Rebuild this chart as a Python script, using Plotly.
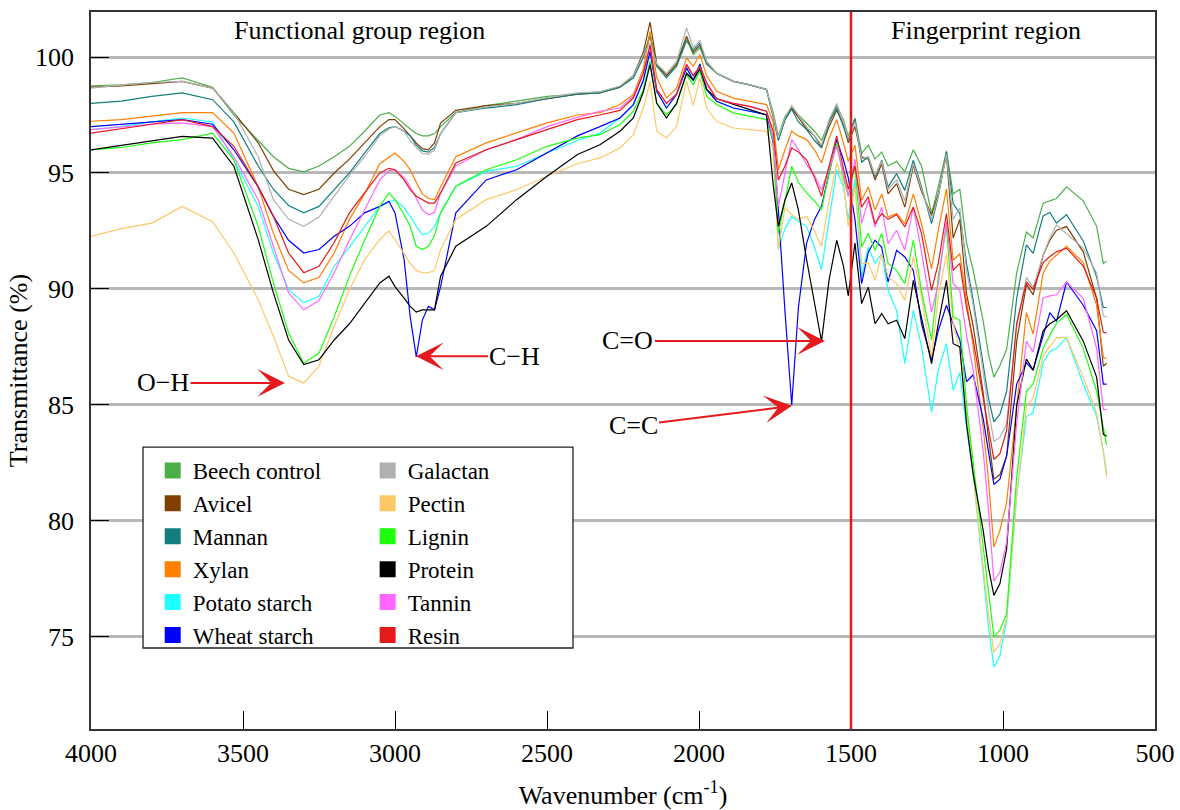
import plotly.graph_objects as go

# ---------------- data ----------------
wavenumber = [
    4000, 3900, 3800, 3700, 3600, 3530, 3450, 3400, 3350, 3300,
    3250, 3200, 3150, 3100, 3050, 3020, 3000, 2970, 2950, 2930,
    2910, 2890, 2870, 2850, 2800, 2700, 2600, 2500, 2400, 2326,
    2260, 2216, 2183, 2161, 2139, 2107, 2074, 2041, 2019, 1997,
    1975, 1942, 1887, 1833, 1778, 1756, 1739, 1717, 1695, 1673,
    1646, 1620, 1597, 1572, 1547, 1525, 1509, 1487, 1465, 1443,
    1421, 1399, 1378, 1350, 1323, 1295, 1268, 1235, 1213, 1186,
    1164, 1142, 1120, 1098, 1065, 1048, 1030, 1010, 988, 955,
    923, 901, 868, 846, 824, 791, 736, 692, 670, 659,
]

beech_control = [
    98.76, 98.8, 98.9, 99.1, 98.7, 97.5, 96.4, 95.7, 95.2, 95.05,
    95.3, 95.7, 96.15, 96.8, 97.5, 97.6, 97.44, 97.1, 96.9, 96.7,
    96.6, 96.6, 96.7, 97.0, 97.6, 97.9, 98.1, 98.3, 98.4, 98.5,
    98.7, 99.1, 100.0, 101.0, 99.6, 99.2, 99.6, 100.8, 100.1, 100.4,
    99.7, 99.3, 98.95, 98.8, 98.6, 97.6, 96.6, 97.44, 97.8, 97.5,
    97.15, 96.8, 96.4, 97.2, 97.9, 97.3, 96.6, 97.35, 95.85, 96.2,
    95.6, 95.9, 95.3, 95.5, 95.05, 96.0, 95.3, 93.25, 94.4, 95.95,
    94.1, 94.3, 92.0, 90.8, 88.6, 87.2, 86.2, 86.7, 87.4, 90.7,
    92.45, 92.2, 93.7, 93.8, 93.9, 94.4, 93.8, 92.7, 91.1, 91.2,
]
avicel = [
    98.7, 98.75, 98.85, 98.95, 98.66, 97.6, 96.3, 95.1, 94.3, 94.07,
    94.3, 95.0, 95.6, 96.3, 97.0, 97.3, 97.3, 96.9, 96.6, 96.3,
    96.05, 96.0, 96.3, 97.15, 97.7, 97.9, 98.0, 98.2, 98.4, 98.45,
    98.7, 99.2, 100.2, 101.5, 99.7, 99.2, 99.7, 100.9, 100.2, 100.5,
    99.8, 99.3, 98.95, 98.8, 98.6, 97.5, 96.44, 97.3, 97.8, 97.4,
    96.9, 96.6, 96.1, 97.0, 97.7, 97.1, 96.3, 97.0, 95.7, 95.6,
    94.7, 95.4, 94.1, 94.54, 93.53, 95.33, 94.2, 93.18, 94.1, 95.76,
    92.2, 93.0, 89.8, 88.4, 85.5, 83.6, 81.8, 82.0, 82.8, 87.75,
    90.2, 89.75, 91.45, 92.1, 92.53, 92.69, 91.6, 89.6, 86.67, 86.8,
]
mannan = [
    98.0, 98.1, 98.3, 98.45, 98.16, 97.2, 95.3, 94.3, 93.6, 93.28,
    93.56, 94.28, 95.0, 95.86, 96.7, 96.95, 97.0, 96.8, 96.6, 96.2,
    95.95, 95.9, 96.1, 96.7, 97.6, 97.8, 97.95, 98.2, 98.4, 98.45,
    98.7, 99.1, 100.0, 100.9, 99.6, 99.1, 99.6, 100.7, 100.3, 100.6,
    99.7, 99.3, 98.95, 98.8, 98.6, 97.4, 96.4, 97.3, 97.75, 97.2,
    96.87, 96.4, 96.08, 97.2, 97.8, 97.0, 96.44, 97.34, 95.47, 95.7,
    94.83, 95.55, 94.4, 94.97, 94.25, 95.55, 94.4, 92.82, 93.97, 95.9,
    93.68, 93.25, 91.1, 89.5, 86.7, 85.3, 84.27, 84.6, 85.59, 89.6,
    91.9, 91.53, 93.15, 93.3, 92.84, 93.2, 92.07, 90.52, 89.2, 89.2,
]
xylan = [
    97.23, 97.3, 97.45, 97.6, 97.6, 96.72, 94.4, 92.4, 90.8, 90.26,
    90.5, 91.55, 93.0, 94.1, 95.4, 95.7, 95.86, 95.5, 95.14, 94.6,
    94.1, 93.9, 93.85, 94.4, 95.7, 96.3, 96.72, 97.16, 97.5, 97.6,
    97.95, 98.38, 99.5, 101.1, 99.1, 98.23, 98.66, 99.96, 99.6, 100.1,
    99.2, 98.52, 98.23, 98.09, 97.95, 97.2, 95.14, 96.0, 96.8, 96.6,
    96.44, 96.0, 95.43, 96.5, 97.3, 96.3, 95.5, 96.2, 93.82, 94.4,
    93.4, 94.1, 93.1, 93.25, 92.82, 94.1, 92.8, 90.88, 92.53, 94.32,
    91.24, 91.52, 89.4, 87.5, 84.0, 81.8, 78.87, 79.6, 80.8, 84.97,
    88.98, 88.06, 90.68, 91.2, 91.45, 91.84, 91.14, 89.29, 87.05, 87.0,
]
potato_starch = [
    96.87, 97.0, 97.2, 97.37, 97.2, 95.57, 93.56, 91.55, 89.97, 89.4,
    89.68, 90.98, 91.8, 92.7, 93.56, 93.75, 93.85, 93.5, 93.13, 92.7,
    92.34, 92.4, 92.7, 93.28, 94.43, 95.07, 95.29, 95.86, 96.4, 96.72,
    97.37, 97.95, 99.0, 100.24, 98.52, 97.8, 98.38, 99.53, 99.0, 99.7,
    98.6, 98.09, 97.8, 97.66, 97.51, 96.5, 91.7, 92.6, 93.13, 92.9,
    92.7, 91.8, 90.83, 93.0, 95.14, 94.4, 93.0, 94.7, 90.52, 91.8,
    91.1, 91.52, 89.94, 89.08, 86.78, 89.08, 87.5, 84.7, 86.5, 87.64,
    85.63, 86.4, 84.0, 82.0, 77.87, 75.5, 73.7, 74.2, 75.7, 81.1,
    84.5, 84.66, 86.82, 87.3, 87.44, 87.9, 85.9, 84.5, 83.0, 82.04,
]
wheat_starch = [
    97.0, 97.1, 97.2, 97.3, 97.1, 96.0, 94.4, 93.13, 92.1, 91.55,
    91.7, 92.27, 92.7, 93.28, 93.56, 93.78, 93.28, 91.26, 88.8, 87.07,
    88.66, 89.25, 89.1, 90.1, 93.28, 94.7, 95.14, 95.86, 96.6, 97.0,
    97.37, 97.95, 99.0, 100.24, 98.52, 97.8, 98.38, 99.53, 99.0, 99.7,
    98.6, 98.09, 97.8, 97.66, 97.51, 96.3, 93.4, 89.0, 85.0, 89.2,
    91.98, 93.0, 93.56, 95.0, 96.44, 95.57, 94.8, 93.0, 90.23, 91.6,
    92.1, 91.8, 90.3, 91.67, 91.38, 90.8, 88.5, 86.92, 88.2, 89.3,
    88.5, 87.8, 86.0, 86.3, 84.4, 83.0, 81.57, 81.8, 82.8, 85.9,
    86.82, 86.5, 88.06, 88.98, 88.6, 90.3, 89.3, 88.2, 85.9, 85.9,
]
galactan = [
    98.66, 98.8, 98.9, 98.95, 98.66, 97.6, 95.7, 93.85, 93.0, 92.7,
    93.1, 94.0, 94.9, 95.7, 96.6, 96.9, 97.0, 96.8, 96.4, 96.1,
    95.85, 95.8, 96.0, 96.7, 97.6, 97.85, 98.0, 98.25, 98.45, 98.5,
    98.75, 99.2, 100.1, 100.6, 99.7, 99.3, 99.8, 101.25, 100.4, 100.7,
    99.8, 99.3, 98.95, 98.8, 98.6, 97.5, 96.5, 97.4, 97.9, 97.5,
    97.0, 96.6, 96.2, 97.3, 98.0, 97.2, 96.5, 97.2, 95.6, 95.7,
    94.9, 95.5, 94.3, 94.7, 93.8, 95.4, 94.3, 93.0, 94.0, 95.8,
    93.0, 93.5, 90.8, 89.3, 86.4, 84.8, 83.43, 83.6, 84.2, 88.4,
    90.5, 90.06, 91.45, 92.2, 92.76, 92.38, 91.76, 90.68, 88.83, 88.8,
]
pectin = [
    92.27, 92.6, 92.84, 93.56, 92.9, 91.55, 89.54, 87.96, 86.24, 85.95,
    86.67, 88.4, 89.97, 91.26, 92.13, 92.5, 92.13, 91.5, 91.1, 90.8,
    90.7, 90.7, 90.8, 91.7, 93.0, 93.85, 94.28, 94.86, 95.4, 95.65,
    96.08, 96.65, 97.8, 98.95, 96.8, 96.51, 97.0, 98.95, 97.9, 99.1,
    97.8, 97.23, 96.94, 96.87, 96.8, 96.0, 91.7, 93.5, 93.2, 93.0,
    93.13, 92.5, 91.84, 93.8, 95.43, 94.6, 92.7, 94.4, 91.1, 91.1,
    90.37, 91.52, 90.52, 90.23, 89.5, 91.38, 89.66, 87.07, 89.66, 91.52,
    88.5, 87.36, 84.8, 82.0, 78.0, 76.0, 74.32, 74.7, 75.86, 81.1,
    84.97, 85.28, 87.13, 87.5, 87.9, 87.9, 86.2, 84.66, 83.0, 81.88,
]
lignin = [
    96.0, 96.1, 96.3, 96.44, 96.72, 95.57, 92.7, 90.26, 88.1, 86.8,
    87.24, 88.8, 90.55, 92.1, 93.56, 94.14, 93.85, 93.2, 92.7, 91.84,
    91.7, 91.84, 92.3, 93.28, 94.43, 95.14, 95.57, 96.15, 96.5, 96.65,
    97.08, 97.66, 98.6, 99.81, 98.0, 97.51, 97.95, 99.24, 98.8, 99.4,
    98.3, 97.95, 97.59, 97.44, 97.3, 96.4, 92.4, 93.8, 95.29, 94.6,
    94.14, 93.8, 93.42, 95.0, 96.3, 94.8, 94.0, 95.3, 91.8, 92.4,
    91.67, 92.4, 91.1, 90.8, 90.23, 92.1, 89.9, 87.8, 90.52, 92.7,
    88.8, 88.65, 85.0, 82.5, 78.8, 76.8, 75.0, 75.3, 76.0, 81.88,
    85.59, 85.9, 87.44, 88.0, 88.52, 88.9, 87.44, 85.59, 84.0, 83.27,
]
protein = [
    96.0, 96.2, 96.4, 96.58, 96.5, 95.29, 92.13, 89.83, 87.8, 86.74,
    86.95, 87.8, 88.5, 89.4, 90.26, 90.55, 90.1, 89.6, 89.25, 89.0,
    89.1, 89.1, 89.1, 90.55, 91.84, 92.7, 93.85, 94.86, 95.8, 96.22,
    96.8, 97.37, 98.5, 99.67, 98.0, 97.37, 98.0, 99.3, 99.0, 99.5,
    98.6, 98.2, 97.95, 97.73, 97.5, 94.5, 92.7, 93.85, 94.57, 93.4,
    91.26, 89.4, 87.74, 90.4, 92.1, 91.0, 89.7, 91.98, 89.37, 90.08,
    88.5, 88.94, 88.5, 88.65, 87.86, 90.37, 88.8, 86.78, 88.5, 90.37,
    87.64, 87.5, 84.2, 82.0, 79.57, 78.0, 76.79, 77.3, 78.8, 84.97,
    86.98, 86.5, 88.2, 88.5, 88.67, 89.06, 87.75, 86.2, 83.73, 83.65,
]
tannin = [
    96.87, 97.0, 97.1, 97.16, 97.0, 95.7, 93.85, 91.84, 89.83, 89.1,
    89.5, 90.7, 92.1, 93.4, 94.7, 95.1, 95.14, 94.8, 94.42, 93.9,
    93.4, 93.2, 93.3, 94.14, 95.3, 96.0, 96.44, 97.0, 97.4, 97.66,
    97.8, 98.3, 99.3, 100.5, 98.6, 98.0, 98.4, 99.7, 99.2, 99.6,
    98.8, 98.2, 98.0, 97.87, 97.66, 96.5, 93.56, 95.0, 96.44, 96.0,
    95.36, 94.9, 94.28, 95.2, 96.15, 95.0, 94.0, 95.6, 92.82, 93.82,
    92.67, 93.53, 91.95, 92.53, 91.67, 93.53, 91.6, 89.0, 90.23, 92.9,
    90.23, 89.94, 88.0, 86.5, 83.0, 80.5, 77.41, 77.8, 79.1, 84.2,
    87.75, 87.28, 89.6, 89.7, 89.75, 90.3, 89.6, 87.44, 84.8, 84.8,
]
resin = [
    96.72, 96.9, 97.1, 97.3, 97.0, 96.15, 94.4, 93.13, 91.55, 90.7,
    90.98, 92.0, 93.28, 94.14, 95.0, 95.2, 95.14, 94.7, 94.28, 94.0,
    93.85, 93.7, 93.7, 94.14, 95.43, 96.0, 96.44, 96.87, 97.3, 97.5,
    97.7, 98.23, 99.3, 100.5, 98.6, 98.0, 98.4, 99.67, 99.2, 99.6,
    98.9, 98.2, 98.0, 97.87, 97.66, 96.8, 94.7, 95.3, 96.08, 95.9,
    95.57, 94.8, 94.0, 95.3, 96.6, 95.2, 94.3, 95.3, 93.53, 93.97,
    92.82, 93.25, 93.0, 93.2, 92.67, 93.53, 92.4, 89.94, 91.1, 93.25,
    90.8, 91.1, 89.2, 87.8, 85.2, 84.0, 82.65, 82.9, 83.9, 88.52,
    90.3, 89.98, 91.14, 91.4, 91.6, 91.76, 90.99, 89.6, 88.13, 88.1,
]

series_names = ["Beech control", "Avicel", "Mannan", "Xylan", "Potato starch",
                "Wheat starch", "Galactan", "Pectin", "Lignin", "Protein",
                "Tannin", "Resin"]
series_values = [beech_control, avicel, mannan, xylan, potato_starch,
                 wheat_starch, galactan, pectin, lignin, protein, tannin, resin]
series_colors = ["#4daf4a", "#7f3f00", "#127f7e", "#ff7f00", "#1effff",
                 "#0000ff", "#b0b0b0", "#fec865", "#1eff10", "#000000",
                 "#ff66ff", "#e41a1c"]

x_ticks = [4000, 3500, 3000, 2500, 2000, 1500, 1000, 500]
y_ticks = [75, 80, 85, 90, 95, 100]
region_divider = 1500

# annotation labels: (text, tip wavenumber, tip transmittance, dx, dy in px)
band_labels = [
    ("O\u2212H", 3362, 85.95, -122, 0),
    ("C\u2212H", 2931, 87.1, 99, 0),
    ("C=O", 1586, 87.76, -197, 0),
    ("C=C", 1694, 84.96, -159, 20),
]
region_labels = [("Functional group region", 3118, 101.16),
                 ("Fingerprint region", 1056, 101.16)]

FONT = "Liberation Serif"

fig = go.Figure()

for name, vals, col in zip(series_names, series_values, series_colors):
    assert len(vals) == len(wavenumber), name
    fig.add_trace(go.Scatter(
        x=wavenumber, y=vals, mode="lines", name=name, legendgroup=name,
        showlegend=False, line=dict(color=col, width=1.2)))

# legend entries with square swatches, in two columns
for i, (name, col) in enumerate(zip(series_names, series_colors)):
    fig.add_trace(go.Scatter(
        x=[None], y=[None], mode="markers", name=name, legendgroup=name,
        marker=dict(symbol="square", size=16, color=col),
        legend="legend" if i < 6 else "legend2"))

# divider line
fig.add_shape(type="line", x0=region_divider, x1=region_divider, y0=0, y1=1,
              xref="x", yref="paper", line=dict(color="#e41a1c", width=2.5))

# legend frame
fig.add_shape(type="rect", xref="paper", yref="paper",
              x0=0.0489, x1=0.453, y0=0.113, y1=0.393,
              line=dict(color="#222", width=1.3), fillcolor="white", layer="above")

for text, xv, yv, dx, dy in band_labels:
    fig.add_annotation(x=xv, y=yv, text=text, showarrow=True, ax=dx, ay=dy,
                       arrowhead=3, arrowsize=2.3, arrowwidth=2,
                       arrowcolor="#e41a1c", font=dict(size=26, color="black"))

for text, xv, yv in region_labels:
    fig.add_annotation(x=xv, y=yv, text=text, showarrow=False,
                       font=dict(size=26, color="black"))

legend_common = dict(font=dict(size=23, family=FONT, color="black"),
                     bgcolor="rgba(255,255,255,0)", borderwidth=0,
                     xanchor="left", yanchor="top", itemsizing="trace",
                     traceorder="normal")

fig.update_layout(
    width=1180, height=810,
    margin=dict(l=91, r=25, t=12, b=81),
    plot_bgcolor="white", paper_bgcolor="white",
    font=dict(family=FONT, size=26, color="black"),
    showlegend=True,
    legend=dict(x=0.058, y=0.3905, **legend_common),
    legend2=dict(x=0.260, y=0.3905, **legend_common),
    xaxis=dict(range=[4000, 500], tickvals=x_ticks, ticks="inside", ticklen=18,
               tickcolor="black", tickwidth=1, showgrid=False, zeroline=False,
               showline=True, linecolor="#333", linewidth=1.5, mirror=True,
               tickfont=dict(size=26), automargin=False,
               title=dict(text="Wavenumber (cm<sup>-1</sup>)", standoff=20,
                          font=dict(size=26))),
    yaxis=dict(range=[71.03, 101.94], tickvals=y_ticks, ticks="inside", ticklen=18,
               tickcolor="black", tickwidth=1, showgrid=True, gridcolor="#b8b8b8",
               gridwidth=2.5, zeroline=False, showline=True, linecolor="#333",
               linewidth=1.5, mirror=True, tickfont=dict(size=26),
               ticklabelstandoff=10, automargin=False,
               title=dict(text="Transmittance (%)", standoff=0,
                          font=dict(size=26))),
)

fig.write_html("out.html")
